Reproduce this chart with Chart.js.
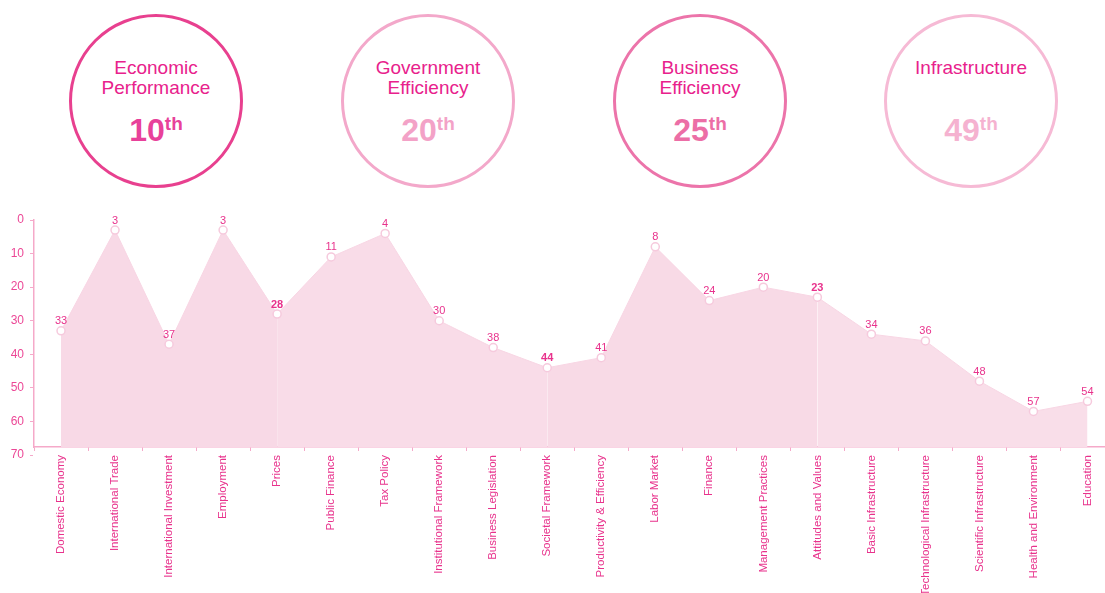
<!DOCTYPE html>
<html>
<head>
  <title>Competitiveness Rankings</title>
  <script src="https://cdn.jsdelivr.net/npm/chart.js"></script>
  <style>
    html, body { margin: 0; padding: 0; background: #fff; overflow: hidden; }
    body { width: 1105px; height: 593px; position: relative; font-family: "Liberation Sans", Arial, sans-serif; }
    .badge { position: absolute; top: 14px; width: 174px; height: 174px; box-sizing: border-box;
             border-radius: 50%; border: 3px solid; text-align: center; }
    .badge .title { position: absolute; left: 0; right: 0; top: 41px; font-size: 19px; line-height: 20px; color: #e8218c; }
    .badge .rank { position: absolute; left: 0; right: 0; top: 89px; font-size: 32px; line-height: 36px; font-weight: bold; }
    .badge .rank span { font-size: 19px; vertical-align: 11px; }
    #lineChart { position: absolute; left: 0; top: 190px; }
  </style>
</head>
<body>
  <div id="badges"></div>
  <canvas id="lineChart" width="1120" height="410"></canvas>

  <script>
    // factor rankings shown in the circles
    var factorNames = [['Economic', 'Performance'], ['Government', 'Efficiency'], ['Business', 'Efficiency'], ['Infrastructure']];
    var factorRanks = [10, 20, 25, 49];
    var factorColors = ['#e8419a', '#f3a2c7', '#ec6ea6', '#f5b2d0'];
    var factorBorders = ['#e8408f', '#f3a8ca', '#ec74aa', '#f6bad5'];

    // sub-factor rankings for the chart
    var categories = ['Domestic Economy', 'International Trade', 'International Investment', 'Employment', 'Prices',
      'Public Finance', 'Tax Policy', 'Institutional Framework', 'Business Legislation', 'Societal Framework',
      'Productivity & Efficiency', 'Labor Market', 'Finance', 'Management Practices', 'Attitudes and Values',
      'Basic Infrastructure', 'Technological Infrastructure', 'Scientific Infrastructure', 'Health and Environment', 'Education'];
    var ranks = [33, 3, 37, 3, 28, 11, 4, 30, 38, 44, 41, 8, 24, 20, 23, 34, 36, 48, 57, 54];
    var yTicks = [0, 10, 20, 30, 40, 50, 60, 70];

    var pink = '#e8328c';
    var axisPink = '#f5a9c9';
    var groupFills = ['#f8d9e6', '#f9dce8', '#f8dae6', '#f9dee9'];

    // build the circles
    var badges = document.getElementById('badges');
    var centers = [156, 428, 700, 971];
    factorNames.forEach(function(name, i) {
      var d = document.createElement('div');
      d.className = 'badge';
      d.style.left = (centers[i] - 87) + 'px';
      d.style.borderColor = factorBorders[i];
      d.innerHTML = '<div class="title">' + name.join('<br>') + '</div>' +
        '<div class="rank" style="color:' + factorColors[i] + '">' + factorRanks[i] + '<span>th</span></div>';
      badges.appendChild(d);
    });

    // draws the rank number above each point
    var pointLabels = {
      id: 'pointLabels',
      afterDatasetsDraw: function(chart) {
        var ctx = chart.ctx;
        var meta = chart.getDatasetMeta(0);
        ctx.save();
        ctx.fillStyle = pink;
        ctx.textAlign = 'center';
        ctx.textBaseline = 'bottom';
        meta.data.forEach(function(pt, i) {
          var bold = (i % 5 === 4 && i < 19);
          ctx.font = (bold ? 'bold ' : '') + '11px "Liberation Sans", Arial, sans-serif';
          ctx.fillText(String(ranks[i]), pt.x, pt.y - 4);
        });
        ctx.restore();
      }
    };

    new Chart(document.getElementById('lineChart'), {
      type: 'line',
      data: {
        labels: categories,
        datasets: [{
          data: ranks,
          fill: 'start',
          backgroundColor: groupFills[0],
          borderColor: '#f8d6e4',
          borderWidth: 1,
          tension: 0,
          pointRadius: 4,
          pointBackgroundColor: '#ffffff',
          pointBorderColor: '#f6cadd',
          pointBorderWidth: 1.5,
          segment: {
            backgroundColor: function(c) { return groupFills[Math.min(3, Math.floor((c.p0DataIndex + 1) / 5))]; }
          }
        }]
      },
      options: {
        responsive: false,
        animation: false,
        layout: { padding: { top: 30, left: 0, right: 0, bottom: 0 } },
        plugins: { legend: { display: false }, tooltip: { enabled: false } },
        scales: {
          x: {
            offset: true,
            grid: { offset: true, drawOnChartArea: false, color: axisPink, tickLength: 4 },
            border: { color: axisPink, width: 1.5 },
            ticks: {
              color: pink,
              autoSkip: false,
              minRotation: 90,
              maxRotation: 90,
              padding: 4,
              font: { family: '"Liberation Sans", Arial, sans-serif', size: 11.5 }
            },
            afterFit: function(scale) { scale.height = 153; }
          },
          y: {
            reverse: true,
            min: 0,
            max: 67.6,
            grid: { drawOnChartArea: false, color: axisPink, tickLength: 4 },
            border: { color: axisPink, width: 1.5 },
            ticks: {
              color: '#ec4796',
              padding: 6,
              font: { family: '"Liberation Sans", Arial, sans-serif', size: 12 }
            },
            afterBuildTicks: function(scale) {
              scale.ticks = yTicks.map(function(v) { return { value: v }; });
            },
            afterFit: function(scale) { scale.width = 34; }
          }
        }
      },
      plugins: [pointLabels]
    });
  </script>
</body>
</html>
